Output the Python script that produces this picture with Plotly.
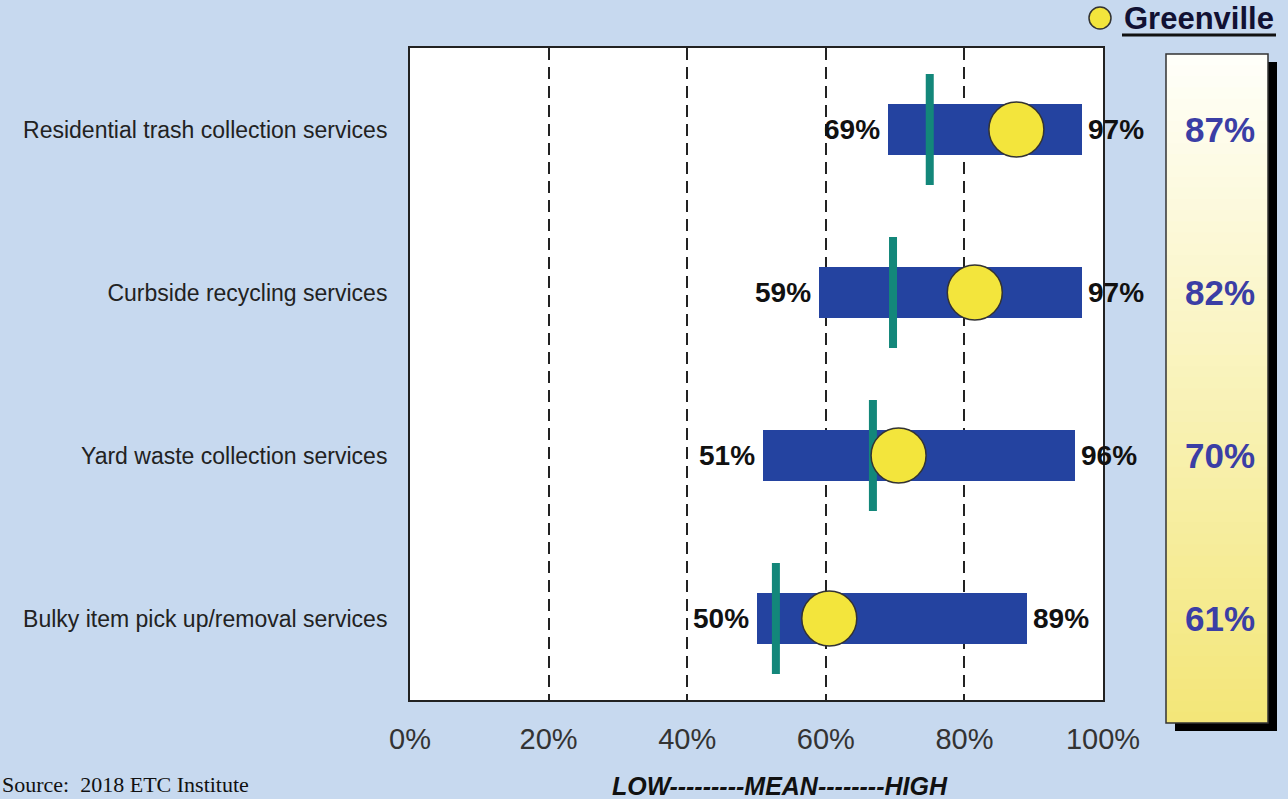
import plotly.graph_objects as go

categories = ["Residential trash collection services", "Curbside recycling services",
              "Yard waste collection services", "Bulky item pick up/removal services"]
low = [69, 59, 51, 50]
high = [97, 97, 96, 89]
mean = [75, 69.7, 66.8, 52.8]
greenville = [87.5, 81.5, 70.5, 60.5]
greenville_labels = ["87%", "82%", "70%", "61%"]
x_ticks = [0, 20, 40, 60, 80, 100]
x_tick_labels = ["0%", "20%", "40%", "60%", "80%", "100%"]

W, H = 1288, 799
ML, MR, MT, MB = 410, 185, 48, 99
PW, PH = W - ML - MR, H - MT - MB

def px(x):
    return (x - ML) / PW

def py(y):
    return (H - MB - y) / PH

FONT = "Arial, Liberation Sans, sans-serif"
idx = list(range(len(categories)))

fig = go.Figure()
fig.add_trace(go.Bar(orientation="h", y=idx, x=[h - l for l, h in zip(low, high)], base=low,
                     width=0.31, marker=dict(color="#2443a0", line=dict(width=0)),
                     hoverinfo="skip"))
mx, my = [], []
for i, m in zip(idx, mean):
    mx += [m, m, None]
    my += [i - 0.34, i + 0.34, None]
fig.add_trace(go.Scatter(x=mx, y=my, mode="lines", line=dict(color="#13877a", width=8),
                         hoverinfo="skip"))
fig.add_trace(go.Scatter(x=greenville, y=idx, mode="markers",
                         marker=dict(size=55, color="#f3e53c", line=dict(color="#333333", width=1.5)),
                         hoverinfo="skip", cliponaxis=False))

ann = []
for i, l, h in zip(idx, low, high):
    ann.append(dict(x=l, y=i, xref="x", yref="y", text=f"<b>{l}%</b>", showarrow=False,
                    xanchor="right", xshift=-6, font=dict(size=28, color="#111111", family=FONT)))
    ann.append(dict(x=h, y=i, xref="x", yref="y", text=f"<b>{h}%</b>", showarrow=False,
                    xanchor="left", xshift=4, font=dict(size=28, color="#111111", family=FONT)))
for i, t in zip(idx, greenville_labels):
    ann.append(dict(x=px(1220), y=i, xref="paper", yref="y", text=f"<b>{t}</b>", showarrow=False,
                    xanchor="center", font=dict(size=35, color="#3b3ea5", family=FONT)))
ann.append(dict(x=px(1122), y=py(19), xref="paper", yref="paper", text="<b>Greenville</b>",
                showarrow=False, xanchor="left", yanchor="middle",
                font=dict(size=31, color="#111133", family=FONT)))
ann.append(dict(x=px(780), y=py(786), xref="paper", yref="paper", text="<b><i>LOW---------MEAN--------HIGH</i></b>",
                showarrow=False, xanchor="center", yanchor="middle",
                font=dict(size=25, color="#111111", family=FONT)))
ann.append(dict(x=px(0), y=py(799), xref="paper", yref="paper", text="Source:  2018 ETC Institute",
                showarrow=False, xanchor="left", yanchor="bottom",
                font=dict(size=22, color="#111111", family="Liberation Serif, Times New Roman, serif")))

shapes = []
# right panel: shadow, gradient, border
bx0, bx1, by0, by1 = 1166, 1268, 54, 723
shapes.append(dict(type="rect", xref="paper", yref="paper", x0=px(bx0 + 9), x1=px(bx1 + 9),
                   y0=py(by1 + 8), y1=py(by0 + 8), fillcolor="#000000", line=dict(width=0), layer="above"))
top = (255, 255, 250)
bot = (243, 230, 120)
N = 60
for k in range(N):
    t = (k + 0.5) / N
    c = tuple(int(round(top[j] + (bot[j] - top[j]) * t)) for j in range(3))
    y0 = by0 + (by1 - by0) * k / N
    y1 = by0 + (by1 - by0) * (k + 1) / N + 4
    shapes.append(dict(type="rect", xref="paper", yref="paper", x0=px(bx0), x1=px(bx1),
                       y0=py(min(y1, by1)), y1=py(y0), fillcolor=f"rgb{c}", line=dict(width=0), layer="above"))
shapes.append(dict(type="rect", xref="paper", yref="paper", x0=px(bx0), x1=px(bx1),
                   y0=py(by1), y1=py(by0), fillcolor="rgba(0,0,0,0)", line=dict(width=1.5, color="#333333"),
                   layer="above"))
# legend marker and underline
shapes.append(dict(type="circle", xref="paper", yref="paper", x0=px(1089), x1=px(1111),
                   y0=py(29), y1=py(7), fillcolor="#f3e53c", line=dict(color="#333333", width=1.5)))
shapes.append(dict(type="line", xref="paper", yref="paper", x0=px(1122), x1=px(1276),
                   y0=py(35), y1=py(35), line=dict(color="#111111", width=3)))

fig.update_layout(
    width=W, height=H, margin=dict(l=ML, r=MR, t=MT, b=MB, pad=0),
    paper_bgcolor="#c7d9ef", plot_bgcolor="#ffffff", showlegend=False,
    font=dict(family=FONT, color="#222222"),
    annotations=ann, shapes=shapes, bargap=0,
    xaxis=dict(range=[0, 100], tickvals=x_ticks, ticktext=x_tick_labels, showgrid=True,
               gridcolor="#222222", gridwidth=1.5, griddash="12px,7px", zeroline=False,
               showline=True, linecolor="#222222", linewidth=2, mirror=True,
               ticks="", ticklabelstandoff=12, tickfont=dict(size=29, color="#333333")),
    yaxis=dict(range=[3.5, -0.5], tickvals=idx, ticktext=categories, showgrid=False, zeroline=False,
               showline=True, linecolor="#222222", linewidth=2, mirror=True,
               ticks="", ticklabelstandoff=16, tickfont=dict(size=23, color="#222222")),
)
fig.write_html("out.html", config={"displayModeBar": False},
               post_script="document.body.style.margin='0';document.body.style.overflow='hidden';")
